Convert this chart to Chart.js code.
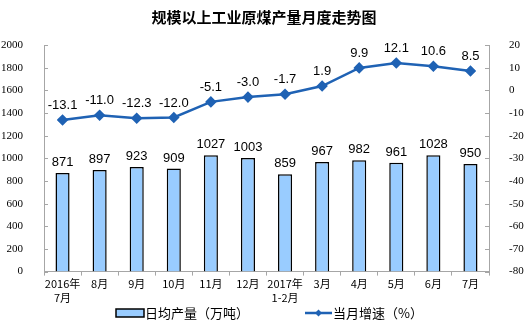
<!DOCTYPE html>
<html>
<head>
<meta charset="utf-8">
<script src="https://cdn.jsdelivr.net/npm/chart.js@4/dist/chart.umd.min.js"></script>
<style>
  html, body { margin: 0; padding: 0; background: #fff; }
  #wrap { width: 528px; height: 326px; }
</style>
</head>
<body>
<div id="wrap"><canvas id="myChart" width="528" height="326"></canvas></div>
<script>
// 月份
var months = [['2016年', '7月'], '8月', '9月', '10月', '11月', '12月', ['2017年', '1-2月'], '3月', '4月', '5月', '6月', '7月'];
// 日均产量（万吨）
var dailyOutput = [871, 897, 923, 909, 1027, 1003, 859, 967, 982, 961, 1028, 950];
// 当月增速（%）
var monthlyGrowth = [-13.1, -11.0, -12.3, -12.0, -5.1, -3.0, -1.7, 1.9, 9.9, 12.1, 10.6, 8.5];

var barLabel = '日均产量（万吨）';
var lineLabel = '当月增速（%）';
var lineColor = '#1f62b4';
var barColor = '#99ccff';

// 数值标签、内侧刻度和图例
var extras = {
  id: 'extras',
  afterDatasetsDraw: function(chart) {
    var ctx = chart.ctx;
    ctx.save();
    ctx.fillStyle = '#000';
    ctx.font = '13px "Liberation Sans", Arial, sans-serif';
    ctx.textAlign = 'center';
    ctx.textBaseline = 'bottom';
    chart.getDatasetMeta(0).data.forEach(function(el, i) {
      ctx.fillText(String(dailyOutput[i]), el.x, el.y - 4);
    });
    chart.getDatasetMeta(1).data.forEach(function(el, i) {
      ctx.fillText(monthlyGrowth[i].toFixed(1), el.x, el.y - 8);
    });

    // 刻度线朝内
    var yl = chart.scales.y, yr = chart.scales.y1;
    ctx.strokeStyle = '#a6a6a6';
    ctx.lineWidth = 1;
    ctx.beginPath();
    yl.ticks.forEach(function(t) {
      var py = Math.round(yl.getPixelForValue(t.value)) + 0.5;
      ctx.moveTo(yl.right, py); ctx.lineTo(yl.right + 4, py);
    });
    yr.ticks.forEach(function(t) {
      var py = Math.round(yr.getPixelForValue(t.value)) + 0.5;
      ctx.moveTo(yr.left, py); ctx.lineTo(yr.left - 4, py);
    });
    ctx.stroke();

    // 图例
    var ly = 313;
    ctx.fillStyle = barColor;
    ctx.fillRect(116, ly - 4, 28, 8);
    ctx.strokeStyle = '#000';
    ctx.lineWidth = 1.5;
    ctx.strokeRect(116, ly - 4, 28, 8);
    ctx.fillStyle = '#000';
    ctx.font = '13px "Noto Sans CJK SC", sans-serif';
    ctx.textAlign = 'left';
    ctx.textBaseline = 'middle';
    ctx.fillText(barLabel, 145, ly);

    ctx.strokeStyle = lineColor;
    ctx.lineWidth = 2.5;
    ctx.beginPath();
    ctx.moveTo(305, ly); ctx.lineTo(332, ly);
    ctx.stroke();
    ctx.fillStyle = lineColor;
    ctx.beginPath();
    ctx.moveTo(318.5, ly - 3.5); ctx.lineTo(322, ly); ctx.lineTo(318.5, ly + 3.5); ctx.lineTo(315, ly);
    ctx.closePath();
    ctx.fill();
    ctx.fillStyle = '#000';
    ctx.fillText(lineLabel, 333, ly);
    ctx.restore();
  }
};

var tickFont = { family: '"Liberation Serif", "Times New Roman", serif', size: 11 };
var plainNumber = function(v) { return String(v); };

var ctx = document.getElementById('myChart').getContext('2d');
var myChart = new Chart(ctx, {
  type: 'bar',
  data: {
    labels: months,
    datasets: [{
      type: 'bar',
      label: barLabel,
      data: dailyOutput,
      backgroundColor: barColor,
      borderColor: '#000',
      borderWidth: 1.5,
      categoryPercentage: 1,
      barPercentage: 0.38,
      yAxisID: 'y',
      order: 2
    }, {
      type: 'line',
      label: lineLabel,
      data: monthlyGrowth,
      borderColor: lineColor,
      backgroundColor: lineColor,
      borderWidth: 2.5,
      pointStyle: 'rectRot',
      pointRadius: 4,
      pointHoverRadius: 4,
      tension: 0,
      yAxisID: 'y1',
      order: 1
    }]
  },
  options: {
    responsive: false,
    animation: false,
    layout: { padding: { top: 0, bottom: 20, left: 0, right: 0 } },
    plugins: {
      legend: { display: false },
      tooltip: { enabled: false },
      title: {
        display: true,
        text: '规模以上工业原煤产量月度走势图',
        color: '#000',
        font: { family: '"Noto Sans CJK SC", sans-serif', size: 15, weight: 'bold' },
        padding: { top: 8, bottom: 19 }
      }
    },
    scales: {
      x: {
        grid: { drawOnChartArea: false, color: '#a6a6a6', tickLength: 4, offset: true },
        border: { color: '#a6a6a6' },
        ticks: { color: '#000', font: { family: '"Noto Sans CJK SC", sans-serif', size: 11 }, maxRotation: 0, autoSkip: false, padding: 2 }
      },
      y: {
        position: 'left',
        min: 0, max: 2000,
        afterFit: function(s) { s.width = 44; },
        grid: { display: false },
        border: { color: '#a6a6a6' },
        ticks: { stepSize: 200, color: '#000', font: tickFont, padding: 13, callback: plainNumber }
      },
      y1: {
        position: 'right',
        min: -80, max: 20,
        afterFit: function(s) { s.width = 39; },
        grid: { display: false },
        border: { color: '#a6a6a6' },
        ticks: { stepSize: 10, color: '#000', font: tickFont, padding: 12, callback: plainNumber }
      }
    }
  },
  plugins: [extras]
});
</script>
</body>
</html>
